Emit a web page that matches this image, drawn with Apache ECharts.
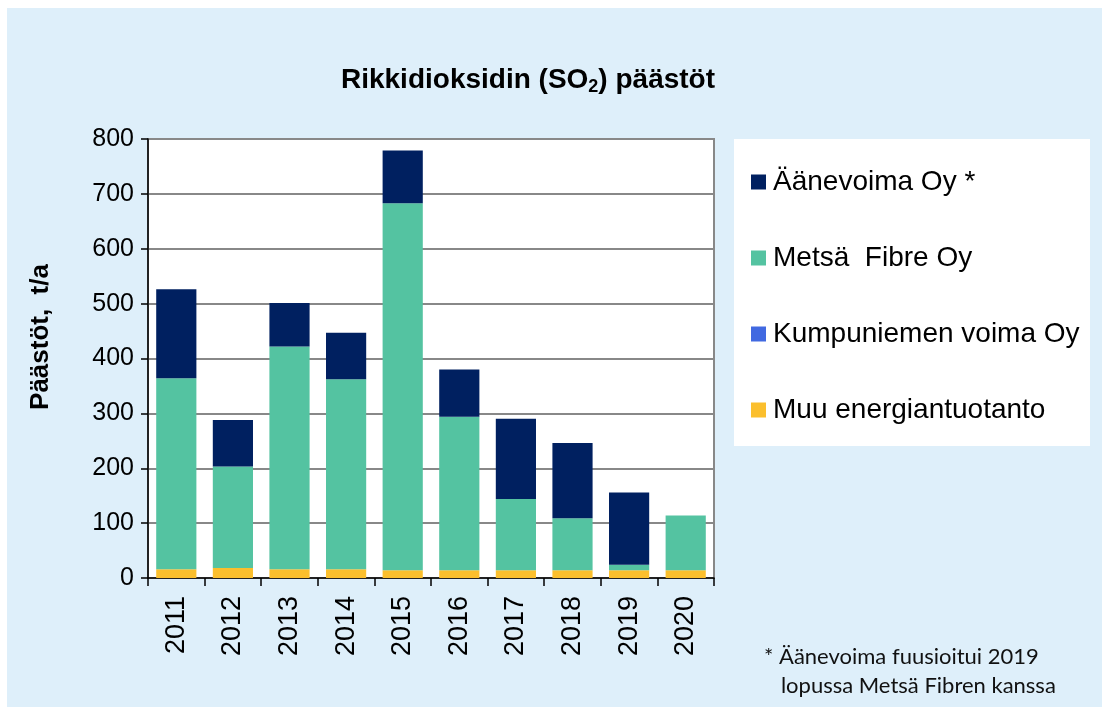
<!DOCTYPE html>
<html>
<head>
<meta charset="utf-8">
<script src="https://cdn.jsdelivr.net/npm/echarts@6/dist/echarts.min.js"></script>
<style>
html,body{margin:0;padding:0;background:#fff;}
#chart{width:1102px;height:707px;}
</style>
</head>
<body>
<div id="chart"></div>
<script>
const years = ['2011','2012','2013','2014','2015','2016','2017','2018','2019','2020'];
const muuEnergia = [16, 18, 16, 16, 14, 14, 14, 14, 14, 14];
const kumpuniemi = [0, 0, 0, 0, 0, 0, 0, 0, 0, 0];
const metsaFibre = [348, 185, 406, 346, 669, 280, 130, 95, 10, 100];
const aanevoima = [162, 85, 79, 85, 96, 86, 146, 137, 132, 0];
const yTicks = [0, 100, 200, 300, 400, 500, 600, 700, 800];

const chart = echarts.init(document.getElementById('chart'), null, {renderer: 'canvas'});
const font = 'Liberation Sans, Arial, sans-serif';

function barSeries(name, data, color) {
  return {
    name: name, type: 'bar', stack: 'total', data: data,
    barWidth: '71%',
    itemStyle: {color: color},
    emphasis: {disabled: true}
  };
}

const option = {
  backgroundColor: '#ffffff',
  animation: false,
  textStyle: {fontFamily: font},
  graphic: [
    {type: 'rect', z: -10, shape: {x: 7, y: 8, width: 1095, height: 699}, style: {fill: '#DEEFFA'}},
    {type: 'rect', z: -5, shape: {x: 734, y: 139, width: 356, height: 307}, style: {fill: '#ffffff'}},
    {type: 'text', z: 10, x: 41, y: 337, rotation: Math.PI / 2,
      style: {text: 'Päästöt,  t/a', font: 'bold 26px ' + font, fill: '#000', textAlign: 'center', textVerticalAlign: 'middle'}},
    {type: 'text', z: 10, x: 764, y: 642,
      style: {text: '* Äänevoima fuusioitui 2019\n   lopussa Metsä Fibren kanssa', font: '22px Lato, "Open Sans", sans-serif', lineHeight: 29, fill: '#111', textAlign: 'left', textVerticalAlign: 'top'}}
  ],
  title: {
    text: '{t|Rikkidioksidin (SO}{s|2}{t|) päästöt}',
    left: 523, top: 59, textAlign: 'center',
    textStyle: {
      rich: {
        t: {fontFamily: font, fontWeight: 'bold', fontSize: 28, color: '#000'},
        s: {fontFamily: font, fontWeight: 'bold', fontSize: 18, color: '#000', padding: [14, 0, 0, 0]}
      }
    }
  },
  legend: {
    orient: 'vertical',
    left: 746, top: 162,
    itemWidth: 15, itemHeight: 15, itemGap: 46,
    icon: 'rect',
    selectedMode: false,
    textStyle: {fontFamily: font, fontSize: 28, color: '#000', lineHeight: 30, padding: [0, 0, 0, 2]},
    data: ['Äänevoima Oy *', 'Metsä  Fibre Oy', 'Kumpuniemen voima Oy', 'Muu energiantuotanto']
  },
  grid: {
    left: 148, top: 139, width: 566, height: 439,
    show: true, backgroundColor: '#ffffff', borderColor: '#888888', borderWidth: 2
  },
  xAxis: {
    type: 'category',
    data: years,
    axisLine: {lineStyle: {color: '#000', width: 1.5}},
    axisTick: {show: true, length: 8, lineStyle: {color: '#000', width: 1.5}},
    axisLabel: {rotate: 90, fontSize: 27, color: '#000', fontFamily: font, margin: 18}
  },
  yAxis: {
    type: 'value',
    min: 0, max: 800, interval: 100,
    axisLine: {show: true, lineStyle: {color: '#000', width: 1.5}},
    axisTick: {show: true, length: 7, lineStyle: {color: '#000', width: 1.5}},
    axisLabel: {fontSize: 25, color: '#000', fontFamily: font, margin: 14,
      formatter: function (v) { return yTicks.indexOf(v) >= 0 ? String(v) : ''; }},
    splitLine: {lineStyle: {color: '#888888', width: 2}}
  },
  series: [
    barSeries('Muu energiantuotanto', muuEnergia, '#FBBF2D'),
    barSeries('Kumpuniemen voima Oy', kumpuniemi, '#4169E1'),
    barSeries('Metsä  Fibre Oy', metsaFibre, '#54C3A1'),
    barSeries('Äänevoima Oy *', aanevoima, '#002060')
  ]
};
chart.setOption(option);
</script>
</body>
</html>
